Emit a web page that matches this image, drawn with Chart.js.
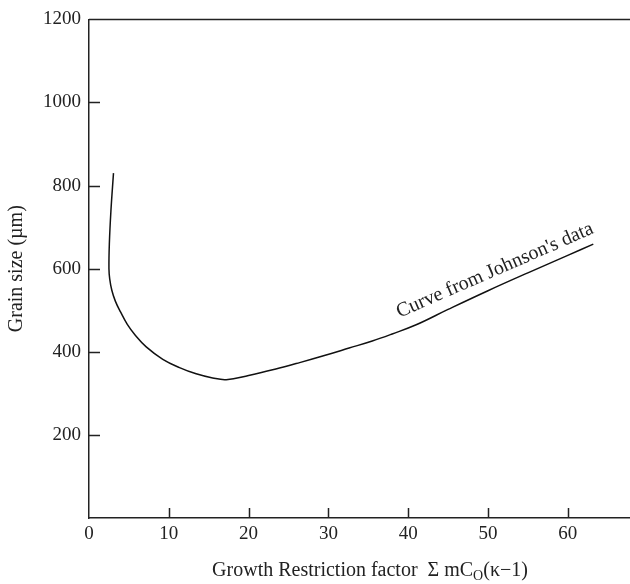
<!DOCTYPE html>
<html>
<head>
<meta charset="utf-8">
<script src="https://cdn.jsdelivr.net/npm/chart.js@4.4.1/dist/chart.umd.min.js"></script>
<style>
  body { margin: 0; background: #fff; }
</style>
</head>
<body>
<canvas id="graphe" width="630" height="584"></canvas>
<script>
// valeurs
const restrictionFactor = [3.07, 2.75, 2.55, 2.5, 2.6, 2.86, 3.3, 3.95, 4.8, 5.8, 7.17, 9.25, 11.34, 13.43, 15.5, 17.2,
                           20.0, 23.3, 26.4, 29.5, 32.6, 35.5, 38.0, 41.0, 45.0, 50.0, 55.0, 60.0, 63.2];
const grainSize = [830, 740, 660, 600, 575, 548, 522, 496, 466, 440, 412, 382, 362, 347, 337, 333,
                   343, 358, 374, 391, 409, 426, 443, 465, 502, 547, 590, 632, 659];
const xTicks = [0, 10, 20, 30, 40, 50, 60];
const yTicks = [200, 400, 600, 800, 1000, 1200];
const yTickMarks = [200, 400, 600, 800, 1000];
const xTickMarks = [10, 20, 30, 40, 50, 60];
const curveLabel = "Curve from Johnson's data";
const curveLabelAt = [38.9, 482];

const serif = '"Liberation Serif", "Times New Roman", serif';
const ink = '#222';

const decorations = {
    id: 'decorations',
    afterDraw(chart) {
        const ctx = chart.ctx;
        const area = chart.chartArea;
        const x = chart.scales.x;
        const y = chart.scales.y;
        ctx.save();
        ctx.strokeStyle = ink;
        ctx.lineWidth = 1.5;

        // bord du haut
        ctx.beginPath();
        ctx.moveTo(area.left, area.top);
        ctx.lineTo(area.right, area.top);
        ctx.stroke();

        // graduations vers l'intérieur
        ctx.beginPath();
        yTickMarks.forEach(v => {
            const py = Math.round(y.getPixelForValue(v)) + 0.5;
            ctx.moveTo(area.left, py);
            ctx.lineTo(area.left + 11, py);
        });
        xTickMarks.forEach(v => {
            const px = Math.round(x.getPixelForValue(v)) + 0.5;
            ctx.moveTo(px, area.bottom);
            ctx.lineTo(px, area.bottom - 10);
        });
        ctx.stroke();

        ctx.fillStyle = ink;

        // titre de l'axe y
        ctx.font = '20px ' + serif;
        ctx.textAlign = 'center';
        ctx.textBaseline = 'middle';
        ctx.save();
        ctx.translate(17, (area.top + area.bottom) / 2);
        ctx.rotate(-Math.PI / 2);
        ctx.fillText('Grain size (\u00b5m)', 0, 0);
        ctx.restore();

        // titre de l'axe x avec indice
        const part1 = 'Growth Restriction factor  \u03a3 mC';
        const sub = 'O';
        const part2 = '(\u03ba\u22121)';
        ctx.textAlign = 'left';
        ctx.textBaseline = 'alphabetic';
        ctx.font = '20px ' + serif;
        const w1 = ctx.measureText(part1).width;
        const w3 = ctx.measureText(part2).width;
        ctx.font = '14px ' + serif;
        const w2 = ctx.measureText(sub).width;
        const total = w1 + w2 + w3;
        let tx = 370 - total / 2;
        const base = 576;
        ctx.font = '20px ' + serif;
        ctx.fillText(part1, tx, base);
        tx += w1;
        ctx.font = '14px ' + serif;
        ctx.fillText(sub, tx, base + 4);
        tx += w2;
        ctx.font = '20px ' + serif;
        ctx.fillText(part2, tx, base);

        // étiquette de la courbe
        const lx = x.getPixelForValue(curveLabelAt[0]);
        const ly = y.getPixelForValue(curveLabelAt[1]);
        ctx.save();
        ctx.translate(lx, ly);
        ctx.rotate(-23.5 * Math.PI / 180);
        ctx.font = '20px ' + serif;
        ctx.fillText(curveLabel, 0, 0);
        ctx.restore();

        ctx.restore();
    }
};

new Chart(document.getElementById('graphe').getContext('2d'), {
    type: 'line',
    data: {
        datasets: [{
            data: restrictionFactor.map((v, i) => ({ x: v, y: grainSize[i] })),
            borderColor: '#111',
            borderWidth: 1.5,
            pointRadius: 0,
            tension: 0.4,
            fill: false
        }]
    },
    options: {
        responsive: false,
        animation: false,
        layout: { padding: { top: 15, left: 0, right: 0, bottom: 0 } },
        plugins: { legend: { display: false }, tooltip: { enabled: false } },
        scales: {
            x: {
                type: 'linear',
                min: 0,
                max: 67.8,
                afterBuildTicks: s => { s.ticks = xTicks.map(v => ({ value: v })); },
                afterFit: s => { s.height = 66; s.paddingLeft = 0; s.paddingRight = 0; },
                grid: { display: false, drawTicks: false },
                border: { display: true, color: ink, width: 1.5 },
                ticks: {
                    color: ink, padding: 5, maxRotation: 0,
                    font: { family: serif, size: 19 },
                    callback: v => String(v)
                }
            },
            y: {
                type: 'linear',
                min: 0,
                max: 1200,
                afterBuildTicks: s => { s.ticks = yTicks.map(v => ({ value: v })); },
                afterFit: s => { s.width = 89; },
                grid: { display: false, drawTicks: false },
                border: { display: true, color: ink, width: 1.5 },
                ticks: {
                    color: ink, padding: 8,
                    font: { family: serif, size: 19 },
                    callback: v => String(v)
                }
            }
        }
    },
    plugins: [decorations]
});
</script>
</body>
</html>
